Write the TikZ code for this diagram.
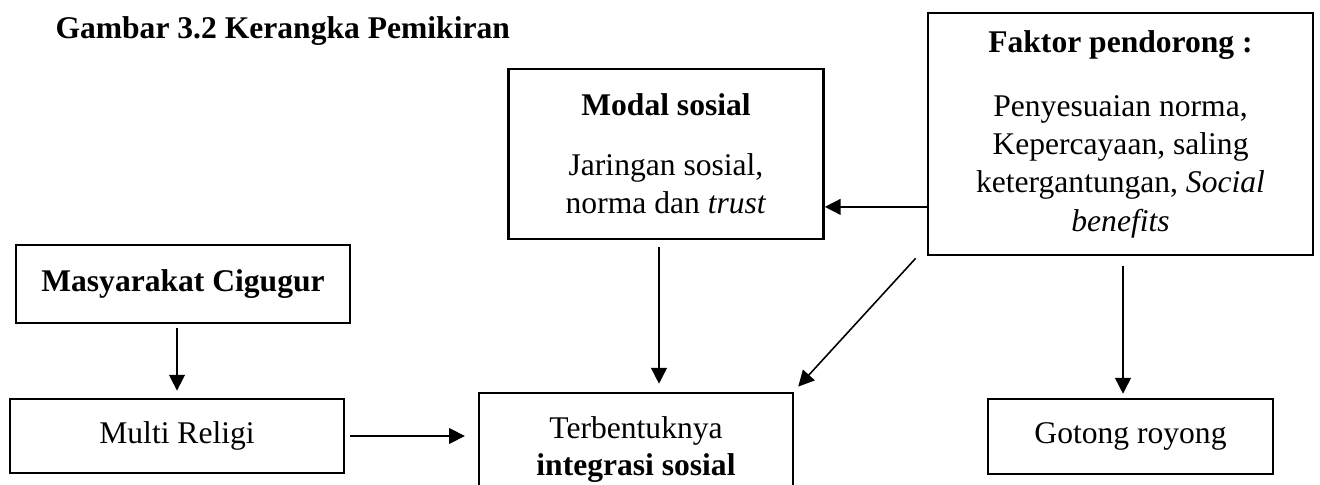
\documentclass[tikz,border=0pt]{standalone}
\usepackage{fontspec}
\setmainfont{Liberation Serif}
\usepackage{tikz}
\usetikzlibrary{calc,arrows.meta,positioning}

\begin{document}
\begin{tikzpicture}[x=0.38pt, y=-0.38pt,
  box/.style={draw, line width=1pt, inner sep=0pt, align=center, font=\fontsize{12}{14.5}\selectfont},
  arr/.style={-{Triangle[length=6pt,width=6pt]}, line width=0.6pt}]
\clip (0,0) rectangle (1320,485);
\node[anchor=west, inner sep=0pt, font=\fontsize{12}{14}\selectfont\bfseries] (title) at (55,31) {Gambar 3.2 Kerangka Pemikiran};
\node[box, minimum width=119.7pt, minimum height=64.6pt] (modal) at (666,154)
  {\textbf{Modal sosial}\\[8.3pt] Jaringan sosial,\\ norma dan \textit{trust}};
\node[box, minimum width=146.3pt, minimum height=91.9pt] (faktor) at (1120.5,134)
  {\textbf{Faktor pendorong :}\\[10pt] Penyesuaian norma,\\ Kepercayaan, saling\\ ketergantungan, \textit{Social}\\ \textit{benefits}};
\node[box, minimum width=126.9pt, minimum height=29.6pt] (masy) at (183,284) {\textbf{Masyarakat Cigugur}};
\node[box, minimum width=126.9pt, minimum height=28.1pt] (multi) at (177,436) {Multi Religi};
\node[box, minimum width=119.3pt, minimum height=43pt, font=\fontsize{12}{14}\selectfont] (terb) at (636,449.5)
  {Terbentuknya\\ \textbf{integrasi sosial}};
\node[box, minimum width=108.3pt, minimum height=28.5pt] (gotong) at (1130.5,436.5) {Gotong royong};

\coordinate (mt) at ([xshift=-2.66pt]modal.south);
\coordinate (mr) at ([yshift=-20.1pt]modal.east);
\coordinate (fg) at ([xshift=0.95pt]faktor.south);
\draw[arr, shorten <=1.5pt, shorten >=2.7pt] (multi.north |- masy.south) -- (multi.north);
\draw[arr, shorten <=1.9pt, shorten >=4.9pt] (multi.east) -- (multi.east -| terb.west);
\draw[arr, shorten <=2.7pt, shorten >=3pt] (mt) -- (mt |- terb.north);
\draw[arr] (mr -| faktor.west) -- (mr);
\draw[arr] ([xshift=-4.2pt,yshift=-0.8pt]faktor.south west) -- ([xshift=1.5pt,yshift=1.9pt]terb.north east);
\draw[arr, shorten <=3.8pt, shorten >=1.5pt] (fg) -- (fg |- gotong.north);
\end{tikzpicture}
\end{document}
